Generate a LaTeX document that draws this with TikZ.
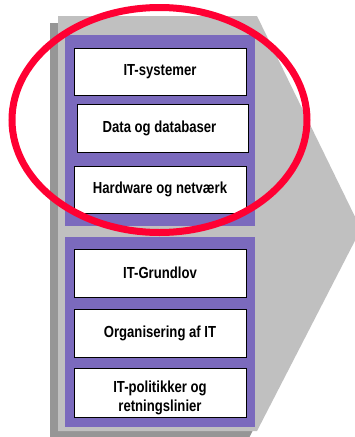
\documentclass[tikz,border=0pt]{standalone}
\usepackage{fontspec}
\newfontfamily\lbl[FakeStretch=0.82]{Liberation Sans}
\definecolor{panelpurple}{RGB}{123,106,189}
\definecolor{plategray}{RGB}{192,192,192}
\definecolor{shadowgray}{RGB}{150,150,150}
\definecolor{ringred}{RGB}{255,0,51}
\tikzset{
  lblfont/.style={font=\lbl\bfseries\fontsize{16}{19}\selectfont},
  itbox/.style={draw=black, line width=0.9pt, fill=white, inner sep=0pt,
    minimum width=172pt, minimum height=47pt, align=center, lblfont},
  panel/.style={fill=panelpurple, draw=none},
}
\begin{document}
\begin{tikzpicture}[x=1pt, y=-1pt]
  \useasboundingbox (0,0) rectangle (355,437);
  \clip (0,0) rectangle (355,437);

  % arrow-shaped plate and its drop shadow
  \fill[shadowgray] (50,23) -- (249,23) -- (353,236) -- (249,438) -- (50,438) -- cycle;
  \fill[plategray] (58,16) -- (257,16) -- (361,229) -- (257,431) -- (58,431) -- cycle;

  % two purple panels
  \fill[panel] (65,35) rectangle (255,226);
  \fill[panel] (65,237) rectangle (255,427);

  % upper panel
  \node[itbox] (sys)  at (160,71.5)  {IT-systemer};
  \node[itbox, minimum width=171pt, minimum height=48pt] (data) at (162.5,128) {};
  \node[lblfont, inner sep=0pt] (datatext) at (159.5,128) {Data og databaser};
  \node[itbox] (hw)   at (160,189.5) {Hardware og netværk};

  % lower panel
  \node[itbox, minimum height=48pt] (law) at (160,273) {IT-Grundlov};
  \node[itbox, minimum height=48pt] (org) at (160,333) {Organisering af IT};
  \node[itbox, minimum height=49pt] (pol) at (160,392.5) {};
  \node[lblfont, align=center, inner sep=0pt]
    (poltext) at (160,398) {IT-politikker og\\retningslinier};

  % red highlight ring
  \draw[ringred, line width=7pt] (159.5,120) ellipse [x radius=147.5pt, y radius=112.5pt];
\end{tikzpicture}
\end{document}
